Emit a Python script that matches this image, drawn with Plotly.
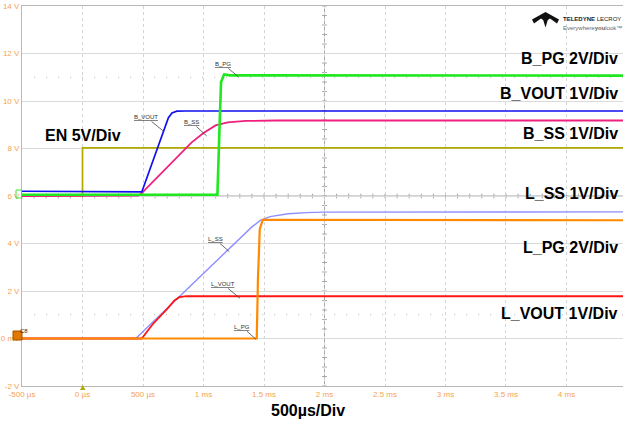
import plotly.graph_objects as go

# ---------------- data (time in ms, level in V on screen scale) ----------------
EN_t = [-0.5, 0.0, 0.0, 4.47]
EN_v = [6.0, 6.0, 8.03, 8.03]

B_VOUT_t = [-0.5, 0.49, 0.71, 0.74, 0.78, 0.85, 4.47]
B_VOUT_v = [6.2, 6.17, 9.30, 9.50, 9.57, 9.58, 9.58]

B_SS_t = [-0.5, 0.46, 0.49, 0.70, 0.90, 1.00, 1.10, 1.20, 1.35, 1.60, 4.47]
B_SS_v = [6.0, 6.02, 6.12, 7.20, 8.25, 8.65, 8.97, 9.10, 9.16, 9.18, 9.18]

B_PG_t = [-0.5, 1.115, 1.13, 1.145, 1.17, 1.22, 4.47]
B_PG_v = [6.05, 6.05, 8.5, 10.8, 11.12, 11.08, 11.07]

L_SS_t = [-0.5, 0.44, 1.40, 1.47, 1.55, 1.70, 1.85, 2.00, 4.47]
L_SS_v = [0.0, 0.0, 4.70, 4.97, 5.13, 5.25, 5.30, 5.32, 5.33]

L_VOUT_t = [-0.5, 0.49, 0.52, 0.58, 0.70, 0.76, 0.80, 0.86, 4.47]
L_VOUT_v = [0.0, 0.0, 0.20, 0.60, 1.25, 1.60, 1.74, 1.78, 1.78]

L_PG_t = [-0.5, 1.44, 1.45, 1.465, 1.49, 4.47]
L_PG_v = [0.0, 0.0, 2.5, 4.6, 5.0, 4.98]

x_tickvals = [-0.5, 0, 0.5, 1, 1.5, 2, 2.5, 3, 3.5, 4, 4.5]
x_ticktext = ["-500 µs", "0 µs", "500 µs", "1 ms", "1.5 ms", "2 ms", "2.5 ms",
              "3 ms", "3.5 ms", "4 ms", "4.5 ms"]
y_tickvals = [-2, 0, 2, 4, 6, 8, 10, 12, 14]
y_ticktext = ["-2 V", "0 mV", "2 V", "4 V", "6 V", "8 V", "10 V", "12 V", "14 V"]

channel_labels = ["B_PG 2V/Div", "B_VOUT 1V/Div", "B_SS 1V/Div",
                  "L_SS 1V/Div", "L_PG 2V/Div", "L_VOUT 1V/Div"]

# ---------------- layout geometry ----------------
W, H = 623, 423
ML, MR, MT, MB = 22, 0, 6, 37
PW, PH = W - ML - MR, H - MT - MB
X0, X1 = -0.5, 4.467
Y0, Y1 = -2.0, 14.0


def px(x):
    return (x - ML) / PW


def py(y):
    return (H - MB - y) / PH


fig = go.Figure()

traces = [
    ("L_SS", L_SS_t, L_SS_v, "#8e8eff", 1.4),
    ("L_VOUT", L_VOUT_t, L_VOUT_v, "#ff1414", 1.8),
    ("L_PG", L_PG_t, L_PG_v, "#ff8a00", 2.2),
    ("EN", EN_t, EN_v, "#b2aa00", 1.7),
    ("B_SS", B_SS_t, B_SS_v, "#f0207f", 1.8),
    ("B_VOUT", B_VOUT_t, B_VOUT_v, "#1010f0", 1.7),
    ("B_PG", B_PG_t, B_PG_v, "#1fe81f", 2.6),
]
for name, t, v, c, w in traces:
    fig.add_trace(go.Scatter(x=t, y=v, mode="lines", name=name,
                             line=dict(color=c, width=w), hoverinfo="skip"))

shapes = []
# center cross lines
shapes.append(dict(type="line", xref="x", yref="y", x0=X0, x1=X1, y0=6, y1=6,
                   line=dict(color="#a8a8a8", width=1), layer="below"))
shapes.append(dict(type="line", xref="x", yref="y", x0=2, x1=2, y0=Y0, y1=Y1,
                   line=dict(color="#a8a8a8", width=1), layer="below"))
# minor ticks on the center cross
for i in range(-5, 46):
    xv = i / 10
    shapes.append(dict(type="line", xref="x", yref="y", x0=xv, x1=xv,
                       y0=6 - 0.1, y1=6 + 0.1,
                       line=dict(color="#a8a8a8", width=1), layer="below"))
for i in range(-5, 36):
    yv = i * 0.4
    shapes.append(dict(type="line", xref="x", yref="y", x0=2 - 0.02, x1=2 + 0.02,
                       y0=yv, y1=yv, line=dict(color="#a8a8a8", width=1), layer="below"))
# dotted reference lines
for yv in (11, 1):
    shapes.append(dict(type="line", xref="x", yref="y", x0=X0 + 0.1, x1=X1, y0=yv, y1=yv,
                       line=dict(color="#b0b0b0", width=1, dash="1px,11px"), layer="below"))
# channel level markers on left
shapes.append(dict(type="rect", xref="paper", yref="paper",
                   x0=px(13), x1=px(22), y0=py(340), y1=py(331),
                   fillcolor="#e07800", line=dict(color="#a05000", width=1)))
shapes.append(dict(type="rect", xref="paper", yref="paper",
                   x0=px(16), x1=px(21.5), y0=py(198), y1=py(190),
                   fillcolor="rgba(0,0,0,0)", line=dict(color="#40e040", width=1)))
# trigger marker
shapes.append(dict(type="path", xref="paper", yref="paper",
                   path=f"M {px(80)} {py(390)} L {px(85.5)} {py(390)} L {px(82.7)} {py(385)} Z",
                   fillcolor="#b2aa00", line=dict(width=0)))
# logo icon
logo = [(545.5, 12.0), (559, 19.5), (557, 23.5), (550, 18.5), (547.8, 20.0),
        (545.5, 27.5), (543.2, 20.0), (541, 18.5), (534, 23.5), (532, 19.5)]
path = "M " + " L ".join(f"{px(a)} {py(b)}" for a, b in logo) + " Z"
shapes.append(dict(type="path", xref="paper", yref="paper", path=path,
                   fillcolor="#111111", line=dict(width=0)))

annotations = []
big_font = dict(family="Liberation Sans, Arial, sans-serif", size=16, color="#000000")
label_y = [59, 93, 133.5, 193, 247, 313]
for txt, yy in zip(channel_labels, label_y):
    annotations.append(dict(text=f"<b>{txt}</b>", xref="paper", yref="paper",
                            x=px(620), y=py(yy), xanchor="right", yanchor="middle",
                            showarrow=False, font=big_font))
annotations.append(dict(text="<b>EN 5V/Div</b>", xref="paper", yref="paper",
                        x=px(43), y=py(136), xanchor="left", yanchor="middle",
                        showarrow=False, font=big_font))
annotations.append(dict(text="<b>500µs/Div</b>", xref="paper", yref="paper",
                        x=px(308), y=py(410), xanchor="center", yanchor="middle",
                        showarrow=False, font=big_font))

# small trace labels with leader lines
small = [("B_PG", (223, 64), (238.3, 76.7)),
         ("B_VOUT", (146, 117), (163.3, 131)),
         ("B_SS", (191.5, 122), (206.7, 136)),
         ("L_SS", (215, 239), (229.3, 251.7)),
         ("L_VOUT", (222.7, 284), (240, 298.3)),
         ("L_PG", (241.7, 326.5), (256, 339.3))]
for txt, (tx, ty), (hx, hy) in small:
    annotations.append(dict(text=f"<u>{txt}</u>", xref="paper", yref="paper",
                            x=px(hx), y=py(hy), ax=tx - hx, ay=ty - hy,
                            axref="pixel", ayref="pixel",
                            showarrow=True, arrowhead=0, arrowwidth=0.8,
                            arrowcolor="#444444",
                            font=dict(family="Liberation Sans, Arial", size=6, color="#333333")))

annotations.append(dict(text="C8", xref="paper", yref="paper", x=px(17.5), y=py(335.5),
                        showarrow=False, font=dict(size=6, color="#402000",
                                                   family="Liberation Sans, Arial")))
annotations.append(dict(text="<b>TELEDYNE</b> LECROY", xref="paper", yref="paper",
                        x=px(561), y=py(18.5), xanchor="left", yanchor="middle",
                        showarrow=False,
                        font=dict(family="Liberation Sans, Arial", size=6, color="#222222")))
annotations.append(dict(text="Everywhere<b>you</b>look™", xref="paper", yref="paper",
                        x=px(561), y=py(27.5), xanchor="left", yanchor="middle",
                        showarrow=False,
                        font=dict(family="Liberation Sans, Arial", size=6, color="#666666")))

tick_font = dict(family="Liberation Sans, Arial", size=8, color="#f6a250")

fig.update_layout(
    width=W, height=H,
    margin=dict(l=ML, r=MR, t=MT, b=MB, pad=0),
    paper_bgcolor="white", plot_bgcolor="white",
    showlegend=False,
    shapes=shapes,
    annotations=annotations,
    xaxis=dict(range=[X0, X1], tickvals=x_tickvals, ticktext=x_ticktext,
               tickfont=tick_font, showgrid=True, gridcolor="#d4d4d4", gridwidth=1,
               griddash="3px,3px", zeroline=False, showline=True, linecolor="#b8b8b8",
               linewidth=1, mirror=True, ticks="", fixedrange=True),
    yaxis=dict(range=[Y0, Y1], tickvals=y_tickvals, ticktext=y_ticktext,
               tickfont=tick_font, showgrid=True, gridcolor="#dadada", gridwidth=1,
               zeroline=False, showline=True, linecolor="#b8b8b8", linewidth=1,
               mirror=False, ticks="", fixedrange=True),
)

fig.write_html("out.html", config={"displayModeBar": False},
               post_script="document.body.style.margin='0px';document.body.style.overflow='hidden';")
